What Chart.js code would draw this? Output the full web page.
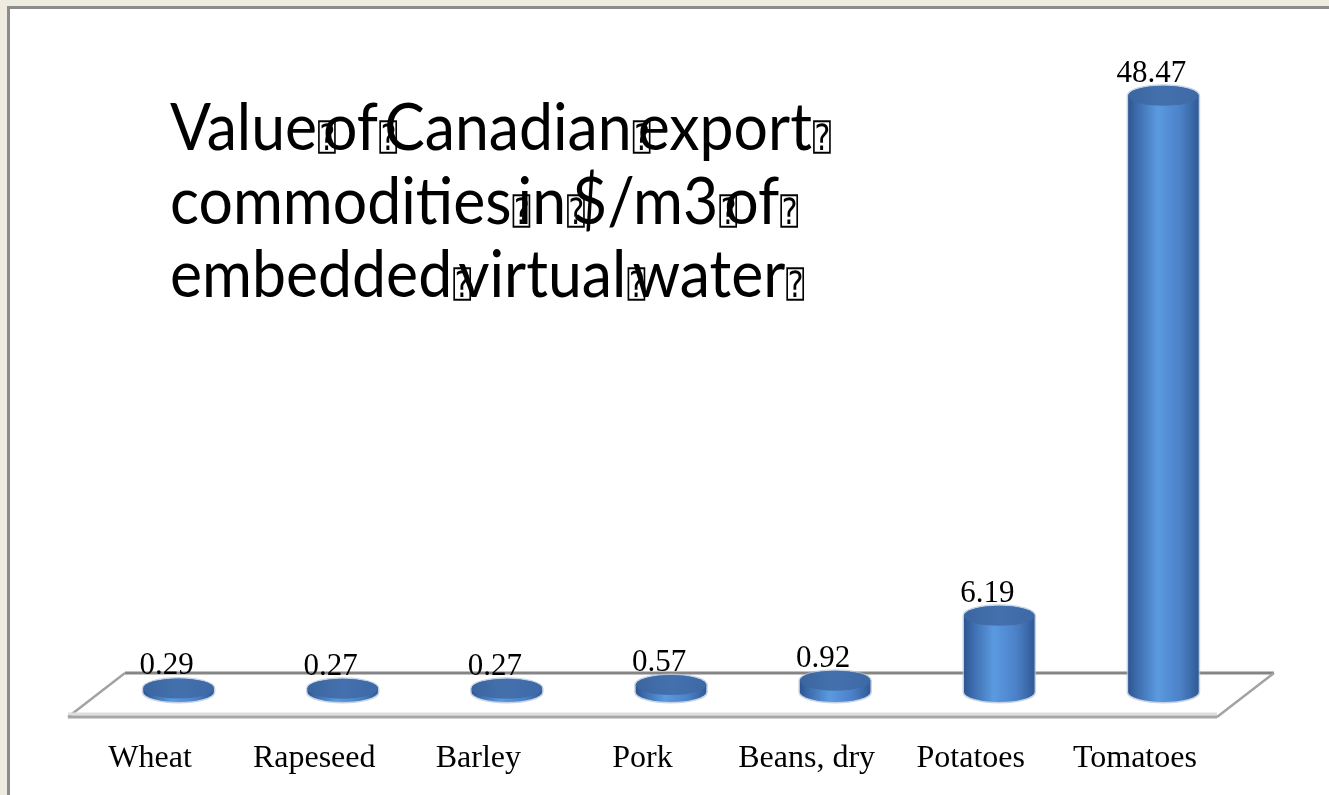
<!DOCTYPE html>
<html>
<head>
<meta charset="utf-8">
<script src="https://cdn.jsdelivr.net/npm/chart.js@4.4.1/dist/chart.umd.min.js"></script>
<style>
  html, body { margin: 0; padding: 0; background: #eeebe0; overflow: hidden; }
  #panel {
    position: absolute; left: 7px; top: 6px; width: 1340px; height: 800px;
    background: #fff; border-left: 3px solid #8c8c8c; border-top: 3px solid #8c8c8c;
  }
  #wrap { position: absolute; left: 0; top: 0; width: 1329px; height: 795px; }
</style>
</head>
<body>
<div id="panel"></div>
<div id="wrap"><canvas id="chart" width="1329" height="795"></canvas></div>
<script>
const categories = ["Wheat", "Rapeseed", "Barley", "Pork", "Beans, dry", "Potatoes", "Tomatoes"];
const values = [0.29, 0.27, 0.27, 0.57, 0.92, 6.19, 48.47];
const valueLabels = ["0.29", "0.27", "0.27", "0.57", "0.92", "6.19", "48.47"];
const titleLines = [
  ["Value", "of", "Canadian", "export"],
  ["commodities", "in", "$/m3", "of"],
  ["embedded", "virtual", "water"]
];
const yMax = 50;

// 3d look
const DEPTH = 57;       // back edge of floor is shifted right by this
const FLOOR_BACK = -19; // relative to zero line
const FLOOR_FRONT = 25;
const RY = 10;
const TITLE_FONT = "400 %spx Lato";

function cylinder(ctx, cx, top, base, w) {
  const l = cx - w / 2, r = cx + w / 2;
  const g = ctx.createLinearGradient(l, 0, r, 0);
  g.addColorStop(0, "#2c5690");
  g.addColorStop(0.1, "#3a68a8");
  g.addColorStop(0.42, "#5b9ae0");
  g.addColorStop(0.75, "#4b80c6");
  g.addColorStop(1, "#2f5b96");

  ctx.beginPath();
  ctx.moveTo(l, top);
  ctx.lineTo(l, base);
  ctx.ellipse(cx, base, w / 2, RY, 0, Math.PI, 0, true);
  ctx.lineTo(r, top);
  ctx.ellipse(cx, top, w / 2, RY, 0, 0, Math.PI, true);
  ctx.closePath();
  ctx.strokeStyle = "rgba(175,192,214,0.7)";
  ctx.lineWidth = 3;
  ctx.stroke();
  ctx.fillStyle = g;
  ctx.fill();

  const tg = ctx.createLinearGradient(l, 0, r, 0);
  tg.addColorStop(0, "#3b659f");
  tg.addColorStop(0.5, "#4471ad");
  tg.addColorStop(1, "#3d6aa6");
  ctx.beginPath();
  ctx.ellipse(cx, top, w / 2, RY, 0, 0, Math.PI * 2);
  ctx.fillStyle = tg;
  ctx.fill();
}

const floorPlugin = {
  id: "floor",
  beforeDatasetsDraw(chart) {
    const { ctx, chartArea } = chart;
    const y0 = chart.scales.y.getPixelForValue(0);
    const fl = chartArea.left, fr = chartArea.right;
    const fy = y0 + FLOOR_FRONT, by = y0 + FLOOR_BACK;
    ctx.save();
    ctx.lineCap = "butt";
    // back edge
    ctx.strokeStyle = "#858585";
    ctx.lineWidth = 3;
    ctx.beginPath();
    ctx.moveTo(fl + DEPTH, by);
    ctx.lineTo(fr + DEPTH, by);
    ctx.stroke();
    // sides
    ctx.strokeStyle = "#a3a3a3";
    ctx.lineWidth = 2.5;
    ctx.beginPath();
    ctx.moveTo(fl, fy); ctx.lineTo(fl + DEPTH, by);
    ctx.moveTo(fr, fy); ctx.lineTo(fr + DEPTH, by);
    ctx.stroke();
    // front edge
    ctx.strokeStyle = "#dedede";
    ctx.lineWidth = 3;
    ctx.beginPath();
    ctx.moveTo(fl, fy - 3); ctx.lineTo(fr, fy - 3);
    ctx.stroke();
    ctx.strokeStyle = "#a6a6a6";
    ctx.beginPath();
    ctx.moveTo(fl, fy); ctx.lineTo(fr, fy);
    ctx.stroke();
    ctx.restore();
  }
};

const cylinderPlugin = {
  id: "cylinders",
  afterDatasetsDraw(chart) {
    const { ctx } = chart;
    const meta = chart.getDatasetMeta(0);
    ctx.save();
    meta.data.forEach((bar, i) => {
      const cx = bar.x + DEPTH / 2;
      cylinder(ctx, cx, bar.y, bar.base, bar.width);
      ctx.fillStyle = "#000";
      ctx.font = "31px 'Liberation Serif'";
      ctx.textAlign = "center";
      ctx.textBaseline = "alphabetic";
      ctx.fillText(valueLabels[i], cx - 12, bar.y - RY - 4);
    });
    ctx.restore();
  }
};

const titlePlugin = {
  id: "bigTitle",
  afterDraw(chart) {
    const ctx = chart.ctx;
    const x0 = 170, baselines = [150, 224, 297];
    const gap = 6, boxW = 18, boxH = 34;
    const font = (s) => TITLE_FONT.replace("%s", s);
    ctx.save();
    ctx.font = font(100);
    const ref = titleLines[0].reduce((s, w) => s + ctx.measureText(w).width, 0);
    const size = 100 * (642 - gap * 3) / ref;
    ctx.font = font(size);
    const cap = ctx.measureText("H").actualBoundingBoxAscent;
    const sy = 46 / cap;
    ctx.fillStyle = "#000";
    ctx.textBaseline = "alphabetic";
    titleLines.forEach((words, li) => {
      let x = x0;
      words.forEach((w) => {
        ctx.save();
        ctx.translate(0, baselines[li]);
        ctx.scale(1, sy);
        ctx.font = font(size);
        ctx.fillText(w, x, 0);
        ctx.restore();
        x += ctx.measureText(w).width;
        // missing-glyph box as drawn in the source
        ctx.save();
        ctx.font = "40px 'DejaVu Sans Mono'";
        const m = ctx.measureText("\u2370");
        const gw = m.actualBoundingBoxLeft + m.actualBoundingBoxRight;
        const gh = m.actualBoundingBoxAscent + m.actualBoundingBoxDescent;
        ctx.translate(x + 1, baselines[li] + 4 - boxH);
        ctx.scale(boxW / gw, boxH / gh);
        ctx.fillText("\u2370", m.actualBoundingBoxLeft, m.actualBoundingBoxAscent);
        ctx.restore();
        ctx.font = font(size);
        x += gap;
      });
    });
    ctx.restore();
  }
};

new Chart(document.getElementById("chart"), {
  type: "bar",
  data: {
    labels: categories,
    datasets: [{
      data: values,
      backgroundColor: "rgba(0,0,0,0)",
      categoryPercentage: 1,
      barPercentage: 0.43
    }]
  },
  options: {
    responsive: false,
    animation: false,
    devicePixelRatio: 1,
    layout: { padding: { left: 68, right: 112, top: 77, bottom: 0 } },
    plugins: { legend: { display: false }, tooltip: { enabled: false } },
    scales: {
      x: {
        grid: { display: false, drawTicks: false },
        border: { display: false },
        ticks: {
          color: "#000",
          font: { family: "'Liberation Serif'", size: 32 },
          padding: 47,
          maxRotation: 0,
          autoSkip: false
        },
        afterFit(scale) { scale.height = 103; }
      },
      y: { display: false, min: 0, max: yMax }
    }
  },
  plugins: [floorPlugin, cylinderPlugin, titlePlugin]
});
</script>
</body>
</html>
